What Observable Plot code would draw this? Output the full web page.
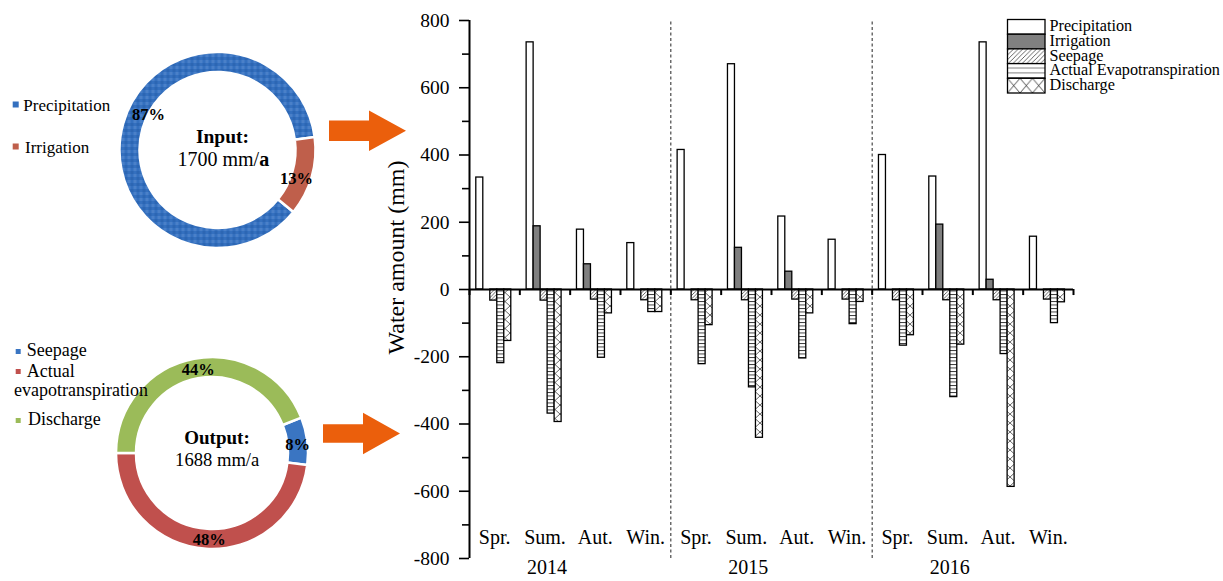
<!DOCTYPE html>
<html>
<head>
<meta charset="utf-8">
<script src="https://cdn.jsdelivr.net/npm/d3@7"></script>
<script src="https://cdn.jsdelivr.net/npm/@observablehq/plot@0.6"></script>
<style>
  body { margin: 0; background: #fff; }
  #chart { width: 1223px; height: 581px; }
</style>
</head>
<body>
<svg style="position:absolute;width:0;height:0" aria-hidden="true">
  <defs>
    <pattern id="seep" patternUnits="userSpaceOnUse" width="3.5" height="3.5">
      <rect width="3.5" height="3.5" fill="#fff"/>
      <path d="M-1,1 L1,-1 M0,3.5 L3.5,0 M2.5,4.5 L4.5,2.5" stroke="#000" stroke-width="0.6"/>
    </pattern>
    <pattern id="et" patternUnits="userSpaceOnUse" width="6" height="3.5">
      <rect width="6" height="3.5" fill="#fff"/>
      <line x1="0" y1="0.5" x2="6" y2="0.5" stroke="#000" stroke-width="0.8"/>
    </pattern>
    <pattern id="dis" patternUnits="userSpaceOnUse" width="10" height="9">
      <rect width="10" height="9" fill="#fff"/>
      <path d="M0,0 L10,9 M10,0 L0,9" stroke="#000" stroke-width="0.6"/>
    </pattern>
    <pattern id="seepL" patternUnits="userSpaceOnUse" width="4.6" height="4.6">
      <rect width="4.6" height="4.6" fill="#fff"/>
      <path d="M-1,1 L1,-1 M0,4.6 L4.6,0 M3.6,5.6 L5.6,3.6" stroke="#000" stroke-width="0.6"/>
    </pattern>
    <pattern id="etL" patternUnits="userSpaceOnUse" x="0" y="63.6" width="8" height="4.9">
      <rect width="8" height="4.9" fill="#fff"/>
      <line x1="0" y1="4.9" x2="8" y2="4.9" stroke="#000" stroke-width="1"/>
    </pattern>
    <pattern id="disL" patternUnits="userSpaceOnUse" x="1007.5" y="78.3" width="12.5" height="14.7">
      <rect width="12.5" height="14.7" fill="#fff"/>
      <path d="M0,0 L12.5,14.7 M12.5,0 L0,14.7" stroke="#000" stroke-width="0.7"/>
    </pattern>
    <pattern id="checkBlue" patternUnits="userSpaceOnUse" width="6" height="6">
      <rect width="6" height="6" fill="#3470bf"/>
      <rect width="3" height="3" fill="#4a80c8"/>
      <rect x="3" y="3" width="3" height="3" fill="#2c66b3"/>
    </pattern>
  </defs>
</svg>
<div id="chart"></div>
<script>
// ---- data ----
const years = ["2014", "2015", "2016"];
const seasons = ["Spr.", "Sum.", "Aut.", "Win."];
const components = ["Precipitation", "Irrigation", "Seepage", "Actual Evapotranspiration", "Discharge"];
const precipitation      = [333, 735, 178, 138,  415, 670, 217, 148,  400, 336, 735, 157];
const irrigation         = [  0, 188,  75,   0,    0, 124,  53,   0,    0, 193,  29,   0];
const seepage            = [-33, -33, -30, -32,  -32, -32, -30, -30,  -32, -32, -32, -30];
const evapotranspiration = [-219, -369, -203, -67,  -222, -291, -205, -103,  -167, -320, -192, -100];
const discharge          = [-153, -394, -71, -67,  -106, -441, -71, -37,  -136, -164, -587, -38];
const yTicks = [-800, -600, -400, -200, 0, 200, 400, 600, 800];
const yMinorTicks = [-700, -500, -300, -100, 100, 300, 500, 700];

const inputLabels = ["Precipitation", "Irrigation"];
const inputShares = [87, 13];
const inputTotal = "1700 mm/";
const outputLabels = ["Seepage", "Actual evapotranspiration", "Discharge"];
const outputShares = [8, 48, 44];
const outputTotal = "1688 mm/a";

// ---- derived tables ----
const series = [precipitation, irrigation, seepage, evapotranspiration, discharge];
const groups = [];
years.forEach((year, yi) => seasons.forEach((season, si) => groups.push({g: yi * seasons.length + si, year, season})));
const rows = [];
groups.forEach(({g, year, season}) => components.forEach((comp, k) => rows.push({g, year, season, comp, k, value: series[k][g]})));
const separators = years.slice(1).map((_, j) => (j + 1) * seasons.length);
const yearLabels = years.map((year, yi) => ({year, g: yi * seasons.length + 1}));
const barFills = ["#fff", "#7f7f7f", "url(#seep)", "url(#et)", "url(#dis)"];
const legendFills = ["#fff", "#808080", "url(#seepL)", "url(#etL)", "url(#disL)"];

const slot0 = 0.135, slotW = 0.139;
const serif = "'Liberation Serif', 'Times New Roman', serif";

// ---- decorative / pie render marks ----
function donut({cx, cy, r0, r1, shares, colors, startDeg, pct, center, legend}) {
  return () => {
    const g = d3.create("svg:g").attr("font-family", serif).attr("text-anchor", "start").attr("fill", "#000");
    const a0 = startDeg * Math.PI / 180;
    const pie = d3.pie().sort(null).startAngle(a0).endAngle(a0 + 2 * Math.PI);
    const arc = d3.arc().innerRadius(r0).outerRadius(r1);
    const slices = pie(shares);
    g.append("g").attr("transform", `translate(${cx},${cy})`)
      .selectAll("path").data(slices).join("path")
      .attr("d", arc).attr("fill", (d, i) => colors[i])
      .attr("stroke", "#fff").attr("stroke-width", 2.5);
    slices.forEach((s, i) => {
      g.append("text").attr("x", pct[i][0]).attr("y", pct[i][1])
        .attr("text-anchor", "middle").attr("font-weight", "bold").attr("font-size", 16.5)
        .text(shares[i] + "%");
    });
    center(g);
    legend(g);
    return g.node();
  };
}

const inputDonut = donut({
  cx: 217.5, cy: 150, r0: 78, r1: 98,
  shares: inputShares, colors: ["url(#checkBlue)", "#bf5f4b"], startDeg: 129.2,
  pct: [[148.5, 120], [296.5, 183.5]],
  center: g => {
    g.append("text").attr("x", 222.5).attr("y", 142.7).attr("text-anchor", "middle")
      .attr("font-weight", "bold").attr("font-size", 19.5).text("Input:");
    const t = g.append("text").attr("x", 223.3).attr("y", 165.7).attr("text-anchor", "middle").attr("font-size", 20);
    t.append("tspan").text(inputTotal);
    t.append("tspan").attr("font-weight", "bold").text("a");
  },
  legend: g => {
    const ys = [[104.5, 111], [146.5, 152.7]];
    const cols = ["#3470bf", "#bf5f4b"];
    inputLabels.forEach((lab, i) => {
      g.append("rect").attr("x", 12.7).attr("y", ys[i][0] - 3).attr("width", 6).attr("height", 6).attr("fill", cols[i]);
      g.append("text").attr("x", i ? 25 : 23.3).attr("y", ys[i][1]).attr("font-size", 17).text(lab);
    });
  }
});

const outputDonut = donut({
  cx: 212, cy: 453, r0: 76, r1: 96,
  shares: outputShares, colors: ["#3a75c2", "#c0504d", "#9bbb59"], startDeg: 68.4,
  pct: [[297.7, 450], [209.3, 545], [198.3, 375]],
  center: g => {
    g.append("text").attr("x", 217).attr("y", 444).attr("text-anchor", "middle")
      .attr("font-weight", "bold").attr("font-size", 19).text("Output:");
    g.append("text").attr("x", 217.2).attr("y", 465.7).attr("text-anchor", "middle")
      .attr("font-size", 18.6).text(outputTotal);
  },
  legend: g => {
    const cols = ["#3a75c2", "#c0504d", "#9bbb59"];
    const sq = [351.5, 371.5, 420.5];
    g.append("rect").attr("x", 15.7).attr("y", sq[0] - 2.5).attr("width", 5).attr("height", 5).attr("fill", cols[0]);
    g.append("text").attr("x", 26.7).attr("y", 356).attr("font-size", 18).text(outputLabels[0]);
    g.append("rect").attr("x", 15.7).attr("y", sq[1] - 2.5).attr("width", 5).attr("height", 5).attr("fill", cols[1]);
    const [w1, ...rest] = outputLabels[1].split(" ");
    g.append("text").attr("x", 26.7).attr("y", 377.3).attr("font-size", 18).text(w1);
    g.append("text").attr("x", 14).attr("y", 396).attr("font-size", 18).text(rest.join(" "));
    g.append("rect").attr("x", 15.7).attr("y", sq[2] - 2.5).attr("width", 5).attr("height", 5).attr("fill", cols[2]);
    g.append("text").attr("x", 28).attr("y", 425).attr("font-size", 18).text(outputLabels[2]);
  }
});

const arrows = () => {
  const g = d3.create("svg:g").attr("fill", "#eb5f0c");
  const arrow = (x0, xh, xt, yc, hs, hh) =>
    `${x0},${yc - hs} ${xh},${yc - hs} ${xh},${yc - hh} ${xt},${yc} ${xh},${yc + hh} ${xh},${yc + hs} ${x0},${yc + hs}`;
  g.append("polygon").attr("points", arrow(329, 369, 406, 130.8, 10.3, 20.2));
  g.append("polygon").attr("points", arrow(323, 363, 400, 433.5, 9.3, 20.7));
  return g.node();
};

const barLegend = () => {
  const g = d3.create("svg:g").attr("font-family", serif).attr("text-anchor", "start").attr("fill", "#000");
  components.forEach((c, k) => {
    const y0 = 19.5 + k * 14.7;
    g.append("rect").attr("x", 1007.5).attr("y", y0).attr("width", 37.5).attr("height", 14.7)
      .attr("fill", legendFills[k]).attr("stroke", "#000").attr("stroke-width", 1.3);
    g.append("text").attr("x", 1049.5).attr("y", y0 + 11.8).attr("font-size", 16.2).text(c);
  });
  return g.node();
};

// ---- plot ----
const plot = Plot.plot({
  width: 1223,
  height: 581,
  marginLeft: 469,
  marginRight: 150,
  marginTop: 20,
  marginBottom: 23,
  x: {domain: [0, groups.length], axis: null},
  y: {domain: [-800, 800], axis: null},
  color: {type: "ordinal", domain: components, range: barFills},
  style: {fontFamily: serif, fontSize: "20px", color: "#000", background: "#fff", overflow: "visible"},
  marks: [
    inputDonut,
    outputDonut,
    arrows,
    Plot.ruleX(separators, {y1: -800, y2: 800, stroke: "#222", strokeWidth: 1, strokeDasharray: "3,2.5"}),
    Plot.rect(rows.filter(d => d.value !== 0), {
      x1: d => d.g + slot0 + d.k * slotW,
      x2: d => d.g + slot0 + (d.k + 1) * slotW,
      y1: 0,
      y2: "value",
      fill: "comp",
      stroke: "#000",
      strokeWidth: 1.3
    }),
    Plot.ruleY([0], {stroke: "#000", strokeWidth: 2}),
    Plot.ruleX(d3.range(groups.length + 1), {y1: 0, y2: -18, stroke: "#000", strokeWidth: 2}),
    Plot.ruleX([0], {y1: -800, y2: 800, stroke: "#000", strokeWidth: 2}),
    Plot.axisY({ticks: yTicks, tickSize: 10, tickPadding: 10, tickFormat: d => String(d), fontSize: 19.5, strokeWidth: 1.6, label: null}),
    Plot.axisY({ticks: yMinorTicks, tickSize: 7, tickFormat: () => "", strokeWidth: 1.6, label: null}),
    Plot.text(["Water amount (mm)"], {text: d => d, frameAnchor: "left", textAnchor: "middle", rotate: -90, dx: -73, dy: -32, fontSize: 24}),
    Plot.text(groups, {x: d => d.g + 0.5, text: "season", frameAnchor: "bottom", dy: -15, fontSize: 20}),
    Plot.text(yearLabels, {x: d => d.g + 0.5, text: "year", frameAnchor: "bottom", dy: 15, dx: 2, fontSize: 20}),
    barLegend
  ]
});
document.getElementById("chart").append(plot);
</script>
</body>
</html>
